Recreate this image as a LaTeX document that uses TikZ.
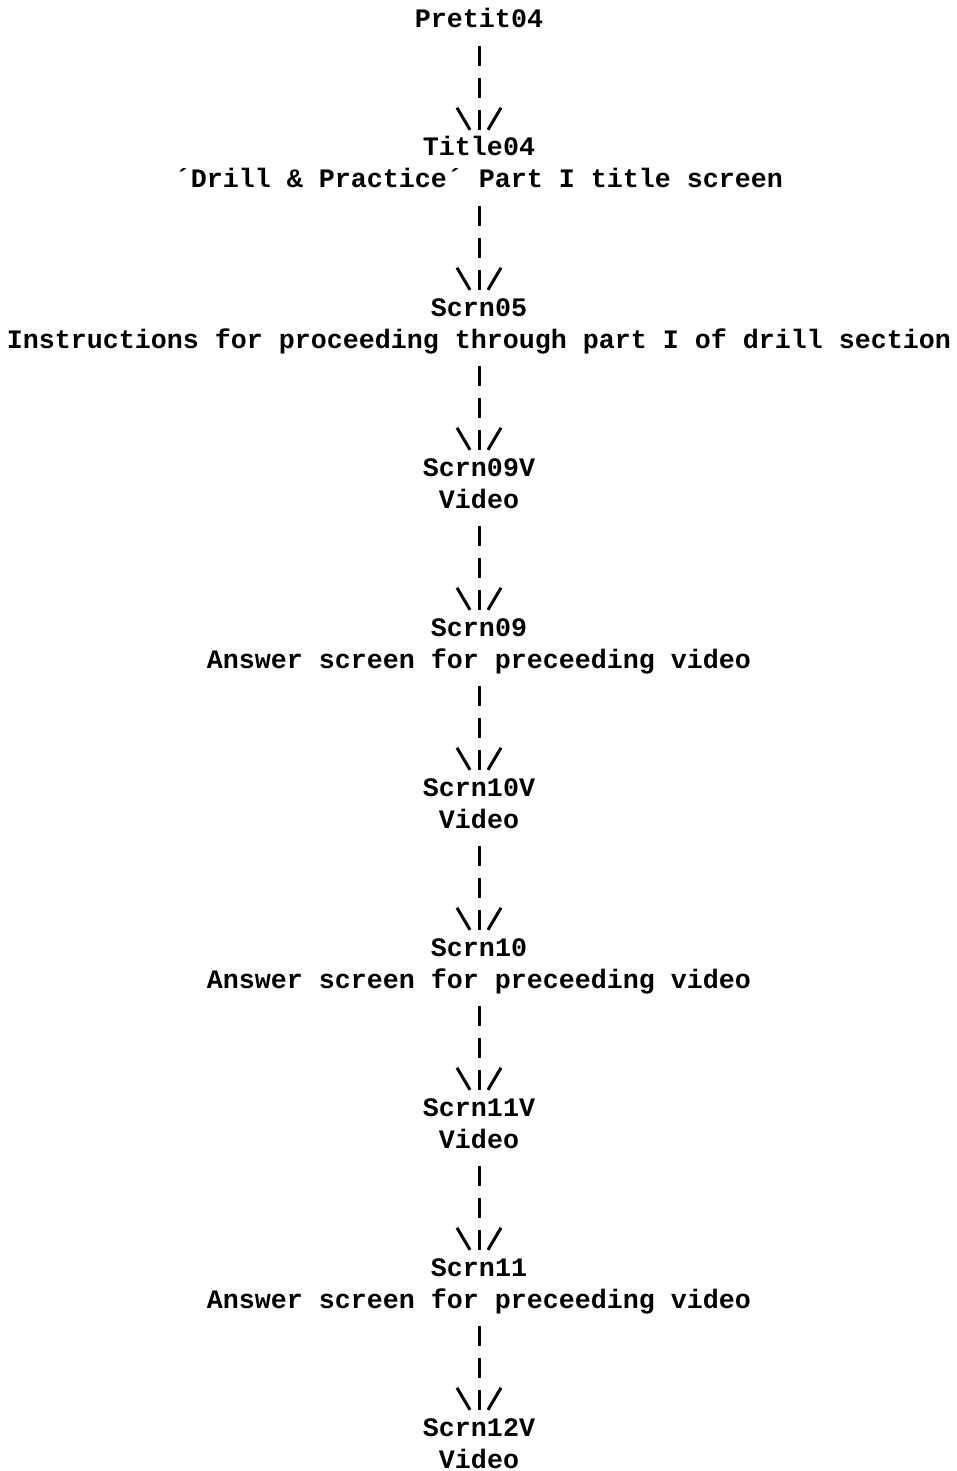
\documentclass[tikz,border=0pt]{standalone}
\usepackage{fontspec}
\setmonofont{Liberation Mono}
\usetikzlibrary{calc}

% one typed line of the listing; the node's base sits on the baseline
\tikzset{
  typed/.style={font=\ttfamily\bfseries\fontsize{26.67}{32}\selectfont,
    inner sep=0pt, anchor=base, text height=15pt, text depth=0pt},
  flowbars/.style={line width=3pt, dash pattern=on 20pt off 12pt},
  barbstroke/.style={line width=3pt}
}

% connector made of typed bars, ending in a "\|/" head above the target
\newcommand\flowlink[2]{%
  \draw[flowbars] ($(#1.south)+(0,18)$) -- ($(#2.north)+(0,-11)$);
  \draw[barbstroke] ($(#2.north)+(-22,-33)$) -- ++(13,22);
  \draw[barbstroke] ($(#2.north)+(22,-33)$) -- ++(-13,22);
}

\begin{document}
\begin{tikzpicture}[x=1pt,y=-1pt]
\useasboundingbox (0,0) rectangle (957,1471);
\def\cx{479}

\node[typed] (pretit)  at (\cx,28)   {Pretit04};

\node[typed] (title04) at (\cx,156)  {Title04};
\node[typed] (title04d) at (\cx,188) {´Drill \& Practice´ Part I title screen};

\node[typed] (scrn05)  at (\cx,316)  {Scrn05};
\node[typed] (scrn05d) at (\cx,348)  {Instructions for proceeding through part I of drill section};

\node[typed] (scrn09v)  at (\cx,476) {Scrn09V};
\node[typed] (scrn09vd) at (\cx,508) {Video};

\node[typed] (scrn09)  at (\cx,636)  {Scrn09};
\node[typed] (scrn09d) at (\cx,668)  {Answer screen for preceeding video};

\node[typed] (scrn10v)  at (\cx,796) {Scrn10V};
\node[typed] (scrn10vd) at (\cx,828) {Video};

\node[typed] (scrn10)  at (\cx,956)  {Scrn10};
\node[typed] (scrn10d) at (\cx,988)  {Answer screen for preceeding video};

\node[typed] (scrn11v)  at (\cx,1116) {Scrn11V};
\node[typed] (scrn11vd) at (\cx,1148) {Video};

\node[typed] (scrn11)  at (\cx,1276) {Scrn11};
\node[typed] (scrn11d) at (\cx,1308) {Answer screen for preceeding video};

\node[typed] (scrn12v)  at (\cx,1436) {Scrn12V};
\node[typed] (scrn12vd) at (\cx,1468) {Video};

\flowlink{pretit}{title04}
\flowlink{title04d}{scrn05}
\flowlink{scrn05d}{scrn09v}
\flowlink{scrn09vd}{scrn09}
\flowlink{scrn09d}{scrn10v}
\flowlink{scrn10vd}{scrn10}
\flowlink{scrn10d}{scrn11v}
\flowlink{scrn11vd}{scrn11}
\flowlink{scrn11d}{scrn12v}
\end{tikzpicture}
\end{document}
